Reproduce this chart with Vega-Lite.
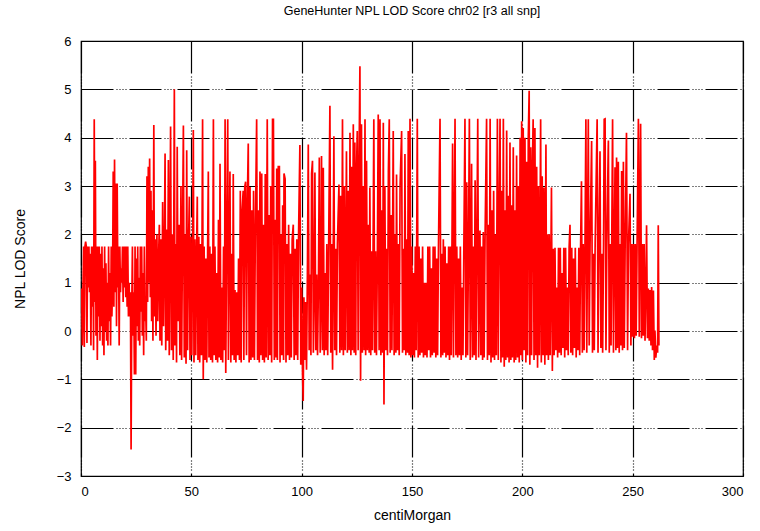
{
"$schema": "https://vega.github.io/schema/vega-lite/v6.json",
"width": 662,
"height": 435,
"autosize": "none",
"padding": {"left": 81, "top": 41, "right": 17, "bottom": 55},
"background": "white",
"title": {"text": "GeneHunter NPL LOD Score chr02 [r3 all snp]", "fontSize": 12.5, "fontWeight": "normal", "font": "Liberation Sans", "color": "black", "offset": 18},
"config": {
  "view": {"stroke": "black", "strokeWidth": 1.2},
  "axis": {"labelFont": "Liberation Sans", "titleFont": "Liberation Sans", "labelFontSize": 13, "titleFontSize": 14, "titleFontWeight": "normal", "labelColor": "black", "titleColor": "black", "domain": false, "ticks": false, "grid": true, "gridColor": "black", "gridWidth": 1.2, "gridOpacity": 1, "gridDash": [32, 3, 1, 2, 1, 2, 1, 2, 1, 3]}
},
"data": {"values": [
{"x":0.3,"y":0.88},{"x":0.6,"y":-0.3},{"x":0.9,"y":0.9},{"x":1.2,"y":1.75},{"x":1.5,"y":-0.33},{"x":1.8,"y":1.75},{"x":2.1,"y":1.85},{"x":2.4,"y":1.75},{"x":2.7,"y":-0.25},{"x":3.0,"y":1.75},{"x":3.3,"y":0.9},{"x":3.6,"y":1.75},{"x":3.9,"y":0.8},{"x":4.2,"y":1.6},{"x":4.5,"y":-0.3},{"x":4.8,"y":1.75},{"x":5.1,"y":0.5},{"x":5.4,"y":1.75},{"x":5.7,"y":-0.4},{"x":6.0,"y":4.38},{"x":6.3,"y":0.6},{"x":6.5,"y":3.52},{"x":6.8,"y":-0.1},{"x":7.1,"y":1.75},{"x":7.4,"y":-0.6},{"x":7.7,"y":1.75},{"x":8.0,"y":0.3},{"x":8.3,"y":1.75},{"x":8.6,"y":-0.2},{"x":8.9,"y":1.6},{"x":9.2,"y":0.1},{"x":9.5,"y":1.75},{"x":9.8,"y":-0.3},{"x":10.1,"y":1.3},{"x":10.4,"y":-0.5},{"x":10.7,"y":1.75},{"x":11.0,"y":0.0},{"x":11.3,"y":1.4},{"x":11.6,"y":-0.2},{"x":11.9,"y":1.0},{"x":12.2,"y":-0.3},{"x":12.5,"y":1.75},{"x":12.8,"y":0.2},{"x":13.1,"y":1.2},{"x":13.4,"y":-0.3},{"x":13.7,"y":1.75},{"x":14.0,"y":0.3},{"x":14.3,"y":1.0},{"x":14.6,"y":3.3},{"x":14.9,"y":0.5},{"x":15.2,"y":3.55},{"x":15.5,"y":0.8},{"x":15.8,"y":3.05},{"x":16.1,"y":0.1},{"x":16.4,"y":3.05},{"x":16.7,"y":0.9},{"x":17.0,"y":1.75},{"x":17.3,"y":-0.3},{"x":17.6,"y":1.75},{"x":17.9,"y":0.8},{"x":18.2,"y":1.3},{"x":18.5,"y":1.0},{"x":18.8,"y":1.75},{"x":19.1,"y":0.6},{"x":19.4,"y":1.75},{"x":19.7,"y":0.9},{"x":20.0,"y":1.75},{"x":20.3,"y":0.7},{"x":20.6,"y":1.75},{"x":20.9,"y":0.5},{"x":21.2,"y":1.75},{"x":21.5,"y":0.3},{"x":21.8,"y":1.0},{"x":22.1,"y":0.3},{"x":22.4,"y":0.8},{"x":22.7,"y":-2.45},{"x":23.0,"y":0.4},{"x":23.3,"y":1.75},{"x":23.6,"y":-0.1},{"x":23.9,"y":0.8},{"x":24.2,"y":-0.9},{"x":24.5,"y":1.75},{"x":24.8,"y":-0.9},{"x":25.1,"y":1.5},{"x":25.4,"y":0.1},{"x":25.7,"y":1.75},{"x":26.0,"y":-0.2},{"x":26.3,"y":1.1},{"x":26.6,"y":-0.3},{"x":26.9,"y":1.75},{"x":27.2,"y":0.4},{"x":27.5,"y":1.75},{"x":27.8,"y":-0.1},{"x":28.1,"y":1.2},{"x":28.4,"y":-0.5},{"x":28.7,"y":1.75},{"x":29.0,"y":0.2},{"x":29.3,"y":0.5},{"x":29.6,"y":-0.2},{"x":29.9,"y":3.2},{"x":30.2,"y":0.6},{"x":30.5,"y":3.4},{"x":30.8,"y":1.0},{"x":31.1,"y":3.57},{"x":31.4,"y":0.7},{"x":31.7,"y":2.9},{"x":32.0,"y":0.2},{"x":32.3,"y":2.5},{"x":32.6,"y":-0.2},{"x":33.0,"y":4.26},{"x":33.3,"y":0.3},
{"x":33.6,"y":1.9},{"x":34.0,"y":-0.1},{"x":34.4,"y":2.0},{"x":34.8,"y":0.2},{"x":35.2,"y":1.6},{"x":35.5,"y":2.2},{"x":35.8,"y":-0.2},{"x":36.2,"y":1.9},{"x":36.6,"y":-0.3},{"x":37.0,"y":2.67},{"x":37.4,"y":0.1},{"x":37.8,"y":1.8},{"x":38.1,"y":3.67},{"x":38.4,"y":-0.4},{"x":38.8,"y":2.1},{"x":39.2,"y":-0.2},{"x":39.6,"y":3.54},{"x":40.0,"y":-0.5},{"x":40.3,"y":1.9},{"x":40.6,"y":4.23},{"x":41.0,"y":-0.4},{"x":41.4,"y":2.0},{"x":41.8,"y":-0.6},{"x":42.3,"y":5.0},{"x":42.6,"y":-0.3},{"x":43.0,"y":1.8},{"x":43.3,"y":-0.65},{"x":43.6,"y":3.81},{"x":44.0,"y":0.2},{"x":44.4,"y":2.2},{"x":44.8,"y":-0.5},{"x":45.3,"y":3.0},{"x":45.6,"y":-0.6},{"x":46.0,"y":1.9},{"x":46.4,"y":4.25},{"x":46.8,"y":-0.55},{"x":47.2,"y":2.0},{"x":47.6,"y":-0.68},{"x":47.9,"y":3.74},{"x":48.3,"y":-0.4},{"x":48.7,"y":1.7},{"x":49.1,"y":2.78},{"x":49.4,"y":-0.6},{"x":49.8,"y":1.95},{"x":50.2,"y":-0.5},{"x":50.6,"y":1.8},{"x":50.9,"y":4.16},{"x":51.2,"y":-0.65},{"x":51.6,"y":1.9},{"x":52.0,"y":-0.5},{"x":52.4,"y":1.75},{"x":52.7,"y":2.78},{"x":53.0,"y":-0.6},{"x":53.4,"y":1.95},{"x":53.8,"y":-0.65},{"x":54.2,"y":1.8},{"x":54.6,"y":-0.5},{"x":55.1,"y":4.38},{"x":55.4,"y":-1.0},{"x":55.8,"y":1.75},{"x":56.2,"y":-0.6},{"x":56.6,"y":1.5},{"x":57.0,"y":-0.65},{"x":57.4,"y":1.75},{"x":57.7,"y":3.3},{"x":58.0,"y":-0.55},{"x":58.4,"y":1.75},{"x":58.8,"y":-0.6},{"x":59.2,"y":1.6},{"x":59.6,"y":-0.65},{"x":60.0,"y":4.38},{"x":60.3,"y":-0.5},{"x":60.7,"y":1.75},{"x":61.1,"y":-0.6},{"x":61.5,"y":1.2},{"x":61.9,"y":-0.65},{"x":62.3,"y":2.3},{"x":62.7,"y":-0.55},{"x":63.0,"y":3.46},{"x":63.4,"y":-0.6},{"x":63.8,"y":0.9},{"x":64.2,"y":-0.65},{"x":64.6,"y":1.75},{"x":65.0,"y":-0.4},{"x":65.3,"y":4.38},{"x":65.6,"y":-0.87},{"x":66.0,"y":1.75},{"x":66.5,"y":4.38},{"x":66.8,"y":-0.6},{"x":67.2,"y":1.75},{"x":67.5,"y":3.3},{"x":67.9,"y":-0.65},{"x":68.3,"y":1.6},{"x":68.7,"y":-0.5},{"x":69.0,"y":3.25},{"x":69.4,"y":-0.6},{"x":69.8,"y":0.85},{"x":70.2,"y":-0.65},{"x":70.6,"y":0.8},{"x":71.0,"y":-0.5},{"x":71.4,"y":1.5},{"x":71.8,"y":-0.6},{"x":72.2,"y":2.9},{"x":72.6,"y":-0.65},{"x":73.0,"y":2.5},{"x":73.5,"y":2.9},{"x":73.8,"y":-0.6},{"x":74.2,"y":2.98},{"x":74.6,"y":3.09},{"x":75.0,"y":-0.5},{"x":75.4,"y":2.7},{"x":75.8,"y":3.88},{"x":76.2,"y":-0.65},{"x":76.6,"y":2.98},{"x":77.0,"y":-0.6},{"x":77.4,"y":2.5},{"x":77.8,"y":-0.55},{"x":78.2,"y":2.9},{"x":78.6,"y":-0.6},{"x":79.0,"y":2.0},{"x":79.6,"y":4.38},{"x":80.0,"y":-0.6},{"x":80.4,"y":2.5},{"x":80.8,"y":-0.65},{"x":81.1,"y":3.3},{"x":81.5,"y":-0.5},{"x":81.9,"y":3.26},{"x":82.3,"y":-0.6},{"x":82.7,"y":2.2},{"x":83.1,"y":-0.65},{"x":83.5,"y":3.25},{"x":83.9,"y":-0.55},{"x":84.4,"y":4.38},{"x":84.8,"y":-0.6},{"x":85.2,"y":2.4},{"x":85.6,"y":-0.5},{"x":86.0,"y":3.0},{"x":86.4,"y":-0.65},{"x":86.8,"y":4.38},{"x":87.2,"y":4.38},{"x":87.6,"y":-0.6},{"x":88.0,"y":2.3},{"x":88.4,"y":-0.55},{"x":88.7,"y":3.36},{"x":89.0,"y":-0.6},{"x":89.4,"y":3.4},{"x":89.9,"y":3.4},{"x":90.2,"y":-0.65},{"x":90.6,"y":2.0},{"x":91.0,"y":-0.5},{"x":91.4,"y":2.6},{"x":91.8,"y":-0.6},{"x":92.0,"y":3.26},{"x":92.5,"y":3.15},{"x":92.9,"y":-0.65},{"x":93.3,"y":1.8},{"x":93.7,"y":-0.5},{"x":94.1,"y":2.2},{"x":94.5,"y":-0.6},{"x":94.9,"y":1.6},{"x":95.3,"y":-0.55},{"x":95.7,"y":1.9},{"x":96.2,"y":2.2},{"x":96.6,"y":-0.6},{"x":97.0,"y":1.7},{"x":97.4,"y":-0.5},{"x":97.8,"y":1.9},{"x":98.2,"y":-0.6},{"x":98.6,"y":2.0},{"x":99.2,"y":3.85},
{"x":99.6,"y":-0.7},{"x":100.0,"y":0.9},{"x":100.4,"y":-0.9},{"x":100.7,"y":-1.45},{"x":101.0,"y":0.7},{"x":101.4,"y":-0.6},{"x":101.8,"y":0.6},{"x":102.2,"y":-0.8},{"x":102.6,"y":1.2},{"x":103.0,"y":3.86},{"x":103.4,"y":-0.4},{"x":103.8,"y":1.17},{"x":104.2,"y":-0.5},{"x":104.5,"y":3.26},{"x":104.9,"y":3.52},{"x":105.3,"y":-0.45},{"x":105.7,"y":1.0},{"x":106.0,"y":3.28},{"x":106.4,"y":-0.4},{"x":106.8,"y":1.17},{"x":107.2,"y":-0.5},{"x":107.6,"y":1.0},{"x":108.0,"y":3.59},{"x":108.4,"y":-0.45},{"x":108.8,"y":1.1},{"x":109.0,"y":3.62},{"x":109.4,"y":-0.4},{"x":109.8,"y":3.38},{"x":110.2,"y":-0.5},{"x":110.6,"y":1.2},{"x":111.0,"y":-0.4},{"x":111.4,"y":1.8},{"x":111.8,"y":-0.5},{"x":112.2,"y":1.6},{"x":112.8,"y":4.66},{"x":113.2,"y":-0.45},{"x":113.6,"y":1.8},{"x":114.0,"y":-0.8},{"x":114.6,"y":4.03},{"x":115.0,"y":-0.4},{"x":115.4,"y":1.7},{"x":115.8,"y":-0.5},{"x":116.2,"y":1.8},{"x":116.9,"y":3.03},{"x":117.3,"y":-0.45},{"x":117.7,"y":2.8},{"x":118.1,"y":-0.4},{"x":118.5,"y":4.38},{"x":118.9,"y":-0.5},{"x":119.3,"y":3.0},{"x":119.7,"y":-0.4},{"x":120.3,"y":3.72},{"x":120.7,"y":-0.45},{"x":121.1,"y":2.9},{"x":121.5,"y":-0.4},{"x":121.9,"y":4.1},{"x":122.3,"y":-0.5},{"x":122.7,"y":3.4},{"x":123.0,"y":-0.4},{"x":123.4,"y":4.28},{"x":123.8,"y":-0.45},{"x":124.1,"y":3.9},{"x":124.5,"y":-0.5},{"x":124.8,"y":3.2},{"x":125.2,"y":4.14},{"x":125.6,"y":-0.4},{"x":126.0,"y":3.5},{"x":126.4,"y":5.48},{"x":126.7,"y":-1.03},{"x":127.1,"y":4.28},{"x":127.5,"y":-0.45},{"x":127.9,"y":3.0},{"x":128.3,"y":-0.4},{"x":128.7,"y":4.38},{"x":129.0,"y":-0.5},{"x":129.4,"y":3.52},{"x":129.8,"y":-0.4},{"x":130.2,"y":2.2},{"x":130.6,"y":-0.45},{"x":130.9,"y":2.97},{"x":131.3,"y":-0.5},{"x":131.7,"y":1.65},{"x":132.1,"y":-0.4},{"x":132.7,"y":4.38},{"x":133.1,"y":-0.45},{"x":133.5,"y":1.65},{"x":133.9,"y":-0.5},{"x":134.3,"y":1.5},{"x":134.7,"y":4.48},{"x":135.1,"y":-0.4},{"x":135.5,"y":4.38},{"x":135.9,"y":-0.5},{"x":136.3,"y":2.5},{"x":136.7,"y":-0.45},{"x":137.0,"y":4.31},{"x":137.3,"y":-1.52},{"x":137.7,"y":3.0},{"x":138.1,"y":-0.4},{"x":138.5,"y":1.7},{"x":138.9,"y":-0.5},{"x":139.3,"y":3.3},{"x":139.7,"y":4.38},{"x":140.1,"y":-0.45},{"x":140.5,"y":2.4},{"x":140.9,"y":-0.4},{"x":141.5,"y":4.14},{"x":141.9,"y":-0.5},{"x":142.3,"y":2.0},{"x":142.7,"y":-0.45},{"x":143.0,"y":3.24},{"x":143.4,"y":-0.4},{"x":143.8,"y":1.8},{"x":144.2,"y":-0.5},{"x":144.6,"y":3.0},{"x":145.3,"y":4.14},{"x":145.7,"y":-0.45},{"x":146.1,"y":1.7},{"x":146.5,"y":-0.4},{"x":146.8,"y":3.66},{"x":147.2,"y":-0.5},{"x":147.6,"y":1.9},{"x":148.0,"y":-0.45},{"x":148.3,"y":4.14},{"x":148.7,"y":-0.5},{"x":149.1,"y":4.39},{"x":149.5,"y":-0.55},
{"x":149.9,"y":1.75},{"x":150.3,"y":-0.5},{"x":150.7,"y":1.2},{"x":151.1,"y":-0.55},{"x":151.5,"y":1.75},{"x":151.9,"y":-0.4},{"x":152.4,"y":4.39},{"x":152.8,"y":-0.55},{"x":153.2,"y":1.75},{"x":153.6,"y":-0.5},{"x":154.0,"y":1.5},{"x":154.4,"y":-0.45},{"x":154.8,"y":1.75},{"x":155.2,"y":-0.55},{"x":155.6,"y":1.0},{"x":156.0,"y":-0.5},{"x":156.4,"y":1.0},{"x":156.8,"y":-0.55},{"x":157.2,"y":1.75},{"x":157.6,"y":-0.4},{"x":158.0,"y":1.75},{"x":158.4,"y":-0.55},{"x":158.8,"y":1.3},{"x":159.2,"y":-0.5},{"x":159.6,"y":1.75},{"x":160.0,"y":-0.45},{"x":160.4,"y":1.75},{"x":160.8,"y":-0.55},{"x":161.2,"y":1.5},{"x":161.6,"y":-0.5},{"x":162.0,"y":1.75},{"x":162.7,"y":4.39},{"x":163.1,"y":-0.55},{"x":163.5,"y":1.6},{"x":163.9,"y":-0.5},{"x":164.2,"y":1.9},{"x":164.6,"y":-0.45},{"x":165.0,"y":1.75},{"x":165.4,"y":-0.55},{"x":165.8,"y":1.4},{"x":166.2,"y":-0.5},{"x":166.6,"y":1.75},{"x":167.0,"y":-0.6},{"x":167.4,"y":1.75},{"x":167.8,"y":-0.5},{"x":168.4,"y":3.88},{"x":168.8,"y":-0.55},{"x":169.1,"y":1.75},{"x":169.5,"y":4.39},{"x":169.9,"y":-0.5},{"x":170.3,"y":1.75},{"x":170.7,"y":-0.55},{"x":171.1,"y":1.5},{"x":171.5,"y":-0.5},{"x":171.9,"y":1.75},{"x":172.3,"y":-0.6},{"x":172.7,"y":0.9},{"x":173.1,"y":-0.5},{"x":173.5,"y":1.75},{"x":174.0,"y":4.39},{"x":174.4,"y":-0.55},{"x":174.8,"y":3.08},{"x":175.2,"y":-0.5},{"x":175.6,"y":1.75},{"x":176.0,"y":4.39},{"x":176.4,"y":-0.6},{"x":176.8,"y":1.8},{"x":177.0,"y":3.46},{"x":177.4,"y":-0.55},{"x":177.8,"y":1.75},{"x":178.2,"y":-0.5},{"x":178.6,"y":3.12},{"x":179.0,"y":-0.6},{"x":179.4,"y":1.9},{"x":179.8,"y":4.39},{"x":180.2,"y":-0.55},{"x":180.6,"y":1.8},{"x":180.8,"y":2.08},{"x":181.2,"y":-0.5},{"x":181.6,"y":1.75},{"x":182.0,"y":-0.6},{"x":182.3,"y":2.05},{"x":182.7,"y":-0.55},{"x":183.1,"y":1.9},{"x":183.8,"y":4.39},{"x":184.2,"y":-0.6},{"x":184.6,"y":2.2},{"x":185.0,"y":-0.5},{"x":185.4,"y":4.39},{"x":185.8,"y":-0.65},{"x":186.2,"y":2.5},{"x":186.6,"y":-0.55},{"x":187.0,"y":2.9},{"x":187.4,"y":-0.6},{"x":187.8,"y":2.0},{"x":188.2,"y":-0.5},{"x":188.7,"y":4.39},{"x":189.1,"y":-0.6},{"x":189.5,"y":2.4},{"x":189.9,"y":4.39},{"x":190.3,"y":-0.65},{"x":190.7,"y":2.9},{"x":191.0,"y":-0.55},{"x":191.4,"y":4.39},{"x":191.8,"y":-0.74},{"x":192.2,"y":2.5},{"x":192.5,"y":-0.6},{"x":192.9,"y":4.15},{"x":193.3,"y":-0.55},{"x":193.7,"y":2.8},{"x":194.0,"y":-0.65},{"x":194.4,"y":3.9},{"x":194.8,"y":-0.6},{"x":195.2,"y":2.6},{"x":195.5,"y":-0.55},{"x":195.9,"y":3.8},{"x":196.3,"y":-0.65},{"x":196.7,"y":2.5},{"x":197.0,"y":-0.6},{"x":197.4,"y":3.63},{"x":197.8,"y":-0.55},{"x":198.2,"y":3.0},{"x":198.6,"y":-0.65},
{"x":199.0,"y":4.0},{"x":199.3,"y":-0.5},{"x":199.7,"y":4.34},{"x":200.0,"y":-0.6},{"x":200.4,"y":4.2},{"x":200.8,"y":-0.4},{"x":201.2,"y":4.0},{"x":201.6,"y":-0.65},{"x":202.0,"y":3.5},{"x":202.4,"y":-0.5},{"x":202.7,"y":4.0},{"x":203.1,"y":4.97},{"x":203.4,"y":-0.7},{"x":203.8,"y":3.8},{"x":204.2,"y":-0.5},{"x":204.6,"y":3.5},{"x":204.9,"y":4.38},{"x":205.3,"y":-0.6},{"x":205.7,"y":4.2},{"x":206.1,"y":-0.5},{"x":206.5,"y":3.4},{"x":206.9,"y":-0.76},{"x":207.3,"y":3.0},{"x":207.7,"y":-0.5},{"x":208.3,"y":4.38},{"x":208.6,"y":-0.65},{"x":209.0,"y":3.2},{"x":209.4,"y":-0.5},{"x":209.8,"y":2.97},{"x":210.2,"y":-0.7},{"x":210.7,"y":3.86},{"x":211.0,"y":-0.5},{"x":211.4,"y":2.0},{"x":211.8,"y":-0.6},{"x":212.2,"y":2.0},{"x":212.6,"y":-0.5},{"x":213.2,"y":2.97},{"x":213.6,"y":-0.83},{"x":214.0,"y":1.7},{"x":214.4,"y":-0.5},{"x":214.8,"y":1.72},{"x":215.2,"y":-0.4},{"x":215.6,"y":0.9},{"x":216.0,"y":-0.55},{"x":216.4,"y":1.72},{"x":216.8,"y":-0.45},{"x":217.2,"y":1.72},{"x":217.6,"y":-0.5},{"x":218.0,"y":1.2},{"x":218.4,"y":-0.35},{"x":218.8,"y":1.72},{"x":219.2,"y":-0.55},{"x":219.6,"y":1.72},{"x":220.0,"y":-0.4},{"x":220.4,"y":0.9},{"x":220.8,"y":-0.5},{"x":221.2,"y":1.72},{"x":221.6,"y":2.2},{"x":222.0,"y":-0.45},{"x":222.4,"y":1.72},{"x":222.8,"y":-0.5},{"x":223.2,"y":1.5},{"x":223.6,"y":-0.35},{"x":224.0,"y":1.72},{"x":224.4,"y":-0.55},{"x":224.8,"y":0.9},{"x":225.2,"y":-0.4},{"x":225.6,"y":1.72},{"x":226.0,"y":-0.5},{"x":226.4,"y":1.72},{"x":226.8,"y":3.1},{"x":227.2,"y":-0.45},{"x":227.6,"y":1.8},{"x":228.0,"y":-0.4},{"x":228.4,"y":1.8},{"x":228.8,"y":4.38},{"x":229.2,"y":-0.45},{"x":229.9,"y":4.38},{"x":230.3,"y":-0.3},{"x":230.7,"y":1.8},{"x":231.4,"y":3.93},{"x":231.8,"y":-0.45},{"x":232.2,"y":1.6},{"x":232.6,"y":-0.4},{"x":233.0,"y":1.8},{"x":233.9,"y":4.38},{"x":234.3,"y":-0.45},{"x":234.7,"y":1.8},{"x":235.2,"y":3.72},{"x":235.6,"y":-0.35},{"x":236.0,"y":1.6},{"x":236.4,"y":-0.45},{"x":236.8,"y":1.8},{"x":237.1,"y":4.38},{"x":237.5,"y":4.39},{"x":237.9,"y":-0.4},{"x":238.3,"y":1.8},{"x":238.9,"y":3.72},{"x":239.0,"y":3.94},{"x":239.4,"y":-0.45},{"x":239.8,"y":1.8},{"x":240.2,"y":-0.3},{"x":240.9,"y":4.38},{"x":241.3,"y":-0.45},{"x":241.7,"y":1.8},{"x":242.0,"y":3.39},{"x":242.4,"y":-0.4},{"x":242.7,"y":3.59},{"x":243.1,"y":-0.35},{"x":243.5,"y":3.5},{"x":243.9,"y":-0.45},{"x":244.3,"y":1.8},{"x":244.7,"y":-0.3},{"x":245.0,"y":3.31},{"x":245.4,"y":-0.4},{"x":245.8,"y":3.5},{"x":246.2,"y":-0.35},{"x":246.6,"y":1.8},{"x":247.2,"y":4.1},{"x":247.3,"y":3.12},{"x":247.7,"y":-0.4},{"x":248.1,"y":1.8},{"x":248.8,"y":2.84},{"x":249.2,"y":-0.3},{"x":249.6,"y":1.8},
{"x":250.0,"y":-0.12},{"x":250.4,"y":1.8},{"x":250.8,"y":-0.15},{"x":251.2,"y":1.8},{"x":251.6,"y":-0.1},{"x":252.0,"y":1.8},{"x":252.6,"y":4.39},{"x":253.0,"y":-0.12},{"x":253.6,"y":4.29},{"x":254.0,"y":-0.15},{"x":254.4,"y":1.8},{"x":254.8,"y":-0.1},{"x":255.2,"y":1.8},{"x":255.6,"y":-0.2},{"x":256.0,"y":1.0},{"x":256.3,"y":2.19},{"x":256.7,"y":-0.15},{"x":257.1,"y":0.88},{"x":257.5,"y":-0.2},{"x":257.9,"y":0.85},{"x":258.3,"y":-0.3},{"x":258.6,"y":0.91},{"x":259.0,"y":-0.4},{"x":259.4,"y":0.84},{"x":259.8,"y":-0.6},{"x":260.1,"y":0.01},{"x":260.5,"y":-0.55},{"x":260.9,"y":-0.3},{"x":261.3,"y":-0.45},{"x":261.6,"y":2.19},{"x":261.9,"y":-0.3}
]},
"mark": {"type": "line", "color": "#ff0000", "strokeWidth": 1.7, "clip": true},
"encoding": {
  "x": {"field": "x", "type": "quantitative", "scale": {"domain": [0, 300], "nice": false, "zero": false}, "axis": {"values": [0, 50, 100, 150, 200, 250, 300], "title": "centiMorgan", "labelPadding": 9, "titlePadding": 10}},
  "y": {"field": "y", "type": "quantitative", "scale": {"domain": [-3, 6], "nice": false, "zero": false}, "axis": {"values": [-3, -2, -1, 0, 1, 2, 3, 4, 5, 6], "title": "NPL LOD Score", "labelPadding": 10, "titlePadding": 29}}
}
}
